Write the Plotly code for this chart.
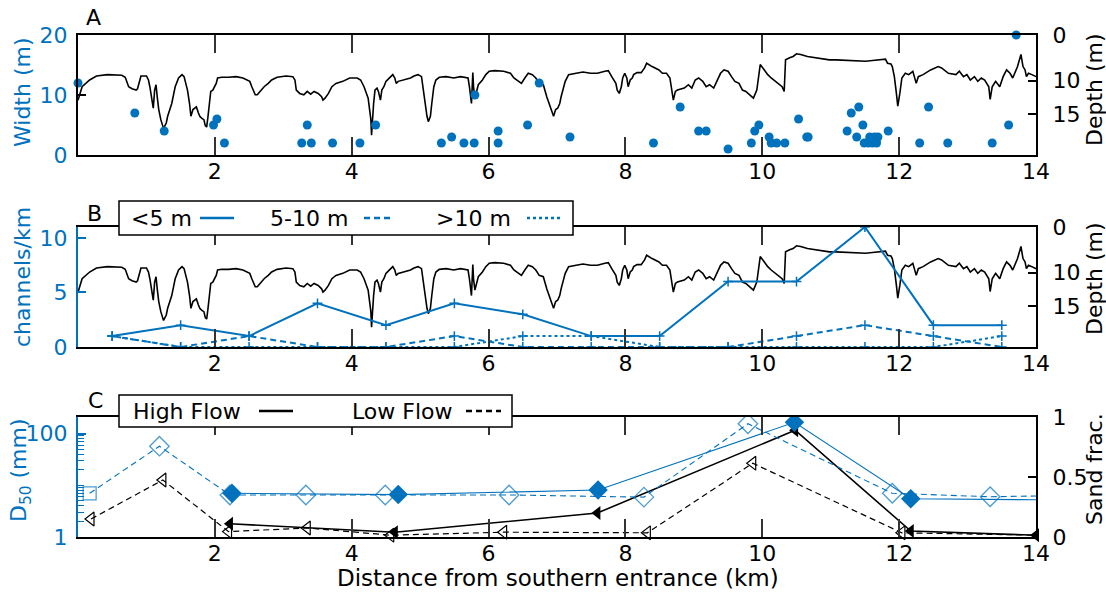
import plotly.graph_objects as go

BLUE = "#0072BD"
BLACK = "#000000"
FONT = "DejaVu Sans"
FS = 22

# ---------------- channel bathymetry (depth along thalweg) ----------------
depth_km = [
    0.00, 0.06, 0.17, 0.27, 0.43, 0.58, 0.64, 0.69, 0.71, 0.74, 0.79, 0.85, 0.87, 0.90, 0.92,
    1.00, 1.03, 1.05, 1.08, 1.10, 1.12, 1.14, 1.16, 1.18, 1.21, 1.25, 1.29, 1.31, 1.37, 1.42,
    1.47, 1.52, 1.55, 1.58, 1.60, 1.63, 1.65, 1.68, 1.71, 1.73, 1.76, 1.78, 1.81, 1.84, 1.86,
    1.88, 1.90, 1.92, 1.94, 1.97, 1.99, 2.02, 2.04, 2.10, 2.20, 2.31, 2.41, 2.46, 2.51, 2.54,
    2.57, 2.59, 2.62, 2.67, 2.72, 2.78, 2.83, 2.91, 3.04, 3.14, 3.17, 3.19, 3.24, 3.30, 3.35,
    3.40, 3.45, 3.51, 3.56, 3.58, 3.61, 3.66, 3.71, 3.77, 3.87, 3.97, 4.08, 4.13, 4.18, 4.24,
    4.26, 4.28, 4.29, 4.30, 4.32, 4.34, 4.37, 4.39, 4.42, 4.44, 4.47, 4.50, 4.55, 4.60, 4.63,
    4.65, 4.68, 4.76, 4.86, 4.91, 4.97, 5.02, 5.04, 5.07, 5.10, 5.12, 5.15, 5.17, 5.20, 5.23,
    5.28, 5.38, 5.49, 5.59, 5.64, 5.70, 5.72, 5.74, 5.75, 5.77, 5.78, 5.80, 5.83, 5.85, 5.91,
    5.96, 6.01, 6.09, 6.22, 6.32, 6.37, 6.43, 6.48, 6.53, 6.58, 6.64, 6.69, 6.74, 6.80, 6.85,
    6.90, 6.95, 6.98, 7.01, 7.04, 7.06, 7.12, 7.17, 7.28, 7.38, 7.49, 7.59, 7.70, 7.75, 7.80,
    7.86, 7.88, 7.91, 7.94, 7.96, 7.99, 8.02, 8.04, 8.07, 8.10, 8.12, 8.17, 8.23, 8.28, 8.31,
    8.39, 8.44, 8.49, 8.54, 8.60, 8.65, 8.68, 8.70, 8.73, 8.76, 8.86, 8.92, 8.97, 9.02, 9.07,
    9.13, 9.18, 9.23, 9.29, 9.34, 9.39, 9.44, 9.50, 9.55, 9.60, 9.66, 9.71, 9.76, 9.81, 9.87,
    9.92, 9.95, 9.97, 10.03, 10.08, 10.13, 10.19, 10.24, 10.29, 10.32, 10.34, 10.40, 10.45, 10.50, 10.56,
    10.66, 10.77, 10.87, 10.98, 11.08, 11.24, 11.35, 11.51, 11.61, 11.72, 11.80, 11.83, 11.88, 11.90, 11.93,
    11.96, 11.98, 12.01, 12.04, 12.09, 12.14, 12.20, 12.25, 12.28, 12.35, 12.46, 12.57, 12.62, 12.72, 12.83,
    12.88, 12.94, 12.99, 13.04, 13.10, 13.15, 13.20, 13.25, 13.31, 13.33, 13.36, 13.41, 13.47, 13.52, 13.57,
    13.62, 13.66, 13.73, 13.78, 13.81, 13.84, 13.86, 13.89, 13.94, 14.00,
]
depth_m = [
    12.9, 10.9, 9.9, 9.3, 9.1, 9.1, 9.2, 9.5, 10.1, 10.9, 11.2, 11.4, 11.2, 10.1, 9.3,
    9.3, 9.9, 10.9, 12.6, 14.1, 11.4, 10.6, 12.6, 14.3, 15.8, 17.1, 16.3, 15.3, 13.4, 10.9,
    9.6, 9.1, 9.4, 10.4, 11.4, 13.4, 15.3, 14.3, 14.1, 13.9, 14.8, 15.3, 15.6, 15.8, 16.7,
    16.9, 15.3, 12.9, 11.6, 11.4, 10.9, 10.4, 9.6, 9.5, 9.5, 9.4, 9.6, 9.8, 10.1, 10.9,
    11.6, 12.1, 12.1, 11.5, 10.9, 10.4, 9.9, 9.5, 9.3, 9.4, 9.9, 11.4, 11.9, 12.1, 11.6,
    12.0, 11.6, 11.9, 12.4, 12.9, 12.6, 11.9, 10.9, 10.4, 10.1, 9.6, 9.6, 9.9, 10.9, 12.6,
    14.3, 15.8, 18.1, 16.3, 13.4, 11.4, 11.1, 11.6, 12.9, 11.4, 10.9, 10.1, 9.6, 9.1, 9.6,
    10.4, 10.1, 9.9, 9.6, 9.3, 9.1, 9.4, 10.9, 13.4, 15.3, 16.1, 15.3, 13.4, 10.9, 9.9,
    9.5, 9.4, 9.6, 9.4, 9.5, 9.6, 10.9, 12.4, 13.4, 8.8, 10.9, 12.6, 11.6, 10.6, 9.9,
    9.1, 8.6, 8.5, 8.6, 8.9, 9.6, 10.1, 10.4, 9.6, 8.9, 9.1, 9.6, 10.4, 10.6, 12.4,
    13.9, 15.3, 14.3, 14.1, 13.4, 12.4, 10.1, 9.1, 8.9, 8.7, 8.9, 8.9, 8.6, 8.5, 9.4,
    10.4, 11.4, 11.9, 10.9, 9.6, 8.9, 9.6, 10.9, 9.9, 9.6, 9.1, 8.8, 8.8, 8.1, 7.4,
    7.9, 8.1, 8.4, 8.9, 8.9, 9.6, 11.4, 12.9, 11.6, 11.4, 11.1, 10.6, 11.1, 9.9, 9.6,
    10.1, 10.9, 10.6, 11.1, 9.9, 8.9, 8.4, 8.6, 9.4, 10.1, 10.4, 11.4, 11.6, 12.1, 12.6,
    11.4, 8.9, 7.6, 8.4, 9.1, 9.6, 10.1, 10.4, 10.9, 11.6, 6.9, 6.6, 6.4, 6.0, 6.1,
    6.4, 6.6, 6.8, 6.9, 6.9, 7.0, 7.0, 7.1, 7.0, 6.9, 6.8, 7.4, 7.5, 7.9, 9.4,
    11.9, 13.8, 11.9, 9.6, 8.9, 9.1, 8.6, 10.4, 9.4, 9.1, 8.4, 7.9, 8.1, 8.9, 9.1,
    8.6, 9.4, 9.1, 9.9, 9.4, 10.1, 9.6, 9.9, 10.9, 12.8, 10.9, 10.1, 10.9, 9.4, 8.4,
    8.9, 9.6, 7.9, 6.1, 7.9, 8.4, 9.4, 8.9, 9.1, 9.4,
]

# ---------------- tidal channel widths ----------------
chan_km = [0.00, 0.83, 1.26, 1.98, 2.03, 2.14, 3.27, 3.35, 3.41, 3.72, 4.12, 4.35, 5.31, 5.46,
           5.64, 5.79, 5.80, 6.14, 6.14, 6.57, 6.74, 7.19, 8.41, 8.80, 9.07, 9.18, 9.50, 9.84,
           9.89, 9.95, 10.10, 10.13, 10.21, 10.33, 10.53, 10.65, 10.67, 11.24, 11.30, 11.41,
           11.38, 11.47, 11.49, 11.55, 11.57, 11.61, 11.64, 11.67, 11.69, 11.84, 12.30, 12.43,
           12.71, 13.36, 13.60, 13.71]
chan_width_m = [12, 7, 4, 5, 6, 2, 2, 5, 2, 2, 2, 5, 2, 3,
                2, 2, 10, 4, 2, 5, 12, 3, 2, 8, 4, 4, 1, 2,
                4, 5, 3, 2, 2, 2, 6, 3, 3, 4, 7, 8,
                3, 5, 2, 2, 3, 2, 3, 2, 3, 4, 2, 8,
                2, 2, 5, 20]

# ---------------- channel density per 1-km bin ----------------
bin_km = [0.5, 1.5, 2.5, 3.5, 4.5, 5.5, 6.5, 7.5, 8.5, 9.5, 10.5, 11.5, 12.5, 13.5]
dens_lt5 = [1, 2, 1, 4, 2, 4, 3, 1, 1, 6, 6, 11, 2, 2]
dens_5to10 = [1, 0, 1, 0, 0, 1, 0, 0, 0, 0, 1, 2, 1, 0]
dens_gt10 = [1, 0, 0, 0, 0, 0, 1, 1, 0, 0, 0, 0, 0, 1]

# ---------------- bed sediment ----------------
d50_high_km = [2.25, 4.68, 7.60, 10.47, 12.17, 14.30]
d50_high_mm = [7.0, 6.6, 8.1, 165.0, 5.5, 5.2]
d50_low_km = [0.17, 1.19, 2.22, 3.33, 4.49, 6.30, 8.27, 9.79, 11.90, 13.33, 14.30]
d50_low_mm = [7.0, 57.0, 6.5, 6.5, 6.5, 6.5, 5.9, 155.0, 7.0, 6.0, 6.3]
sand_high_km = [2.22, 4.63, 7.59, 10.48, 12.17, 14.00]
sand_high = [0.11, 0.04, 0.20, 0.89, 0.05, 0.015]
sand_low_km = [0.19, 1.24, 2.20, 3.35, 4.57, 6.22, 8.32, 9.86, 12.04, 14.02]
sand_low = [0.15, 0.475, 0.045, 0.075, 0.015, 0.04, 0.035, 0.615, 0.035, 0.015]

x_ticks = [2, 4, 6, 8, 10, 12, 14]
depth_range = [21.06, 3.2]
depth_ticks = [3.2, 10, 15]
depth_labels = ["0", "10", "15"]
d50_major = [1, 100]
d50_minor = [2, 3, 4, 5, 6, 7, 8, 9, 10, 20, 30, 40, 50, 60, 70, 80, 90, 200]

fig = go.Figure()

# Panel A
fig.add_trace(go.Scatter(x=depth_km, y=depth_m, mode="lines", xaxis="x", yaxis="y",
                         line=dict(color=BLACK, width=1.6), showlegend=False))
fig.add_trace(go.Scatter(x=chan_km, y=chan_width_m, mode="markers", xaxis="x", yaxis="y2",
                         marker=dict(color=BLUE, size=9), cliponaxis=False, showlegend=False))

# Panel B
fig.add_trace(go.Scatter(x=depth_km, y=depth_m, mode="lines", xaxis="x2", yaxis="y3",
                         line=dict(color=BLACK, width=1.6), showlegend=False))
for vals, dash in [(dens_gt10, "dot"), (dens_5to10, "6px,4px"), (dens_lt5, "solid")]:
    fig.add_trace(go.Scatter(
        x=bin_km, y=vals, mode="lines+markers", xaxis="x2", yaxis="y4",
        line=dict(color=BLUE, width=2, dash=dash),
        marker=dict(symbol="cross-thin", size=7, line=dict(color=BLUE, width=1.5)),
        showlegend=False))

# Panel C: sand fraction (black triangles)
fig.add_trace(go.Scatter(x=sand_low_km, y=sand_low, mode="lines+markers", xaxis="x3", yaxis="y5",
                         line=dict(color=BLACK, width=1.2, dash="6px,4px"),
                         marker=dict(symbol="triangle-left-open", size=12, color=BLACK,
                                     line=dict(width=1.2)),
                         cliponaxis=False, showlegend=False))
fig.add_trace(go.Scatter(x=sand_high_km, y=sand_high, mode="lines+markers", xaxis="x3", yaxis="y5",
                         line=dict(color=BLACK, width=1.6),
                         marker=dict(symbol="triangle-left", size=12, color=BLACK),
                         cliponaxis=False, showlegend=False))
# Panel C: median grain size (blue diamonds)
fig.add_trace(go.Scatter(x=d50_low_km, y=d50_low_mm, mode="lines+markers", xaxis="x3", yaxis="y6",
                         line=dict(color=BLUE, width=1.1, dash="6px,4px"),
                         marker=dict(symbol=["square-open"] + ["diamond-open"] * (len(d50_low_km) - 1),
                                     size=[13] + [15] * (len(d50_low_km) - 1), color=BLUE,
                                     line=dict(width=1.3)),
                         showlegend=False))
fig.add_trace(go.Scatter(x=d50_high_km, y=d50_high_mm, mode="lines+markers", xaxis="x3", yaxis="y6",
                         line=dict(color=BLUE, width=1.1),
                         marker=dict(symbol="diamond", size=15, color=BLUE),
                         showlegend=False))

xcommon = dict(range=[0, 14], tickvals=x_ticks, ticks="inside", ticklen=18, tickwidth=1.5,
               tickcolor="#333333", showline=True, linecolor=BLACK, linewidth=2, mirror="ticks",
               showgrid=False, zeroline=False, ticklabelstandoff=-4,
               tickfont=dict(family=FONT, size=FS, color=BLACK))
ycommon = dict(ticks="inside", ticklen=8, tickwidth=1.5, showline=True, linewidth=2,
               showgrid=False, zeroline=False)
right_std = dict(ticklabelstandoff=10, tickfont=dict(family=FONT, size=FS, color=BLACK))
left_std = dict(ticklabelstandoff=4, tickfont=dict(family=FONT, size=FS, color=BLUE))

fig.update_layout(
    width=1106, height=595,
    margin=dict(l=78, r=70, t=35, b=58),
    plot_bgcolor="white", paper_bgcolor="white",
    font=dict(family=FONT, size=FS, color=BLACK),
    xaxis=dict(domain=[0, 1], anchor="y", **xcommon),
    xaxis2=dict(domain=[0, 1], anchor="y3", **xcommon),
    xaxis3=dict(domain=[0, 1], anchor="y5", **xcommon),
    yaxis=dict(domain=[0.761, 1.0], anchor="x", side="right", range=depth_range,
               tickvals=depth_ticks, ticktext=depth_labels, linecolor=BLACK, tickcolor=BLACK,
               **right_std, **ycommon),
    yaxis2=dict(overlaying="y", anchor="x", side="left", range=[0, 20], tickvals=[0, 10, 20],
                linecolor=BLACK, tickcolor=BLACK, **left_std, **ycommon),
    yaxis3=dict(domain=[0.3785, 0.6175], anchor="x2", side="right", range=depth_range,
                tickvals=depth_ticks, ticktext=depth_labels, linecolor=BLACK, tickcolor=BLACK,
                **right_std, **ycommon),
    yaxis4=dict(overlaying="y3", anchor="x2", side="left", range=[0, 11], tickvals=[0, 5, 10],
                linecolor=BLUE, tickcolor=BLUE, **left_std, **ycommon),
    yaxis5=dict(domain=[0, 0.239], anchor="x3", side="right", range=[0, 1],
                tickvals=[0, 0.5, 1], ticktext=["0", "0.5", "1"], linecolor=BLACK, tickcolor=BLACK,
                **right_std, **ycommon),
    yaxis6=dict(overlaying="y5", anchor="x3", side="left", type="log", range=[0, 2.32],
                tickvals=d50_major, ticktext=["1", "100"],
                minor=dict(tickvals=d50_minor, ticks="inside", ticklen=6, tickwidth=1.2,
                           tickcolor=BLUE, showgrid=False),
                linecolor=BLUE, tickcolor=BLUE, **left_std, **ycommon),
)

L, T, W, H = 78.0, 35.0, 958.0, 502.0


def px(xp):
    return (xp - L) / W


def py(yp):
    return (T + H - yp) / H


def text_at(text, xp, yp, color=BLACK, angle=0, xanchor="center", size=FS):
    return dict(text=text, x=px(xp), y=py(yp), xref="paper", yref="paper", textangle=angle,
                xanchor=xanchor, yanchor="middle", showarrow=False,
                font=dict(family=FONT, size=size, color=color))


ann = []
# panel letters
for letter, (xp, yp) in {"A": (93, 17), "B": (94, 213), "C": (95, 400)}.items():
    ann.append(text_at(letter, xp, yp))
# axis titles
for text, xp, yp, col in [("Width (m)", 22, 92, BLUE), ("channels/km", 22, 277, BLUE),
                          ("D<sub>50</sub> (mm)", 20, 470, BLUE),
                          ("Depth (m)", 1094, 90, BLACK), ("Depth (m)", 1094, 279, BLACK),
                          ("Sand frac.", 1094, 469, BLACK)]:
    ann.append(text_at(text, xp, yp, col, angle=-90))
ann.append(text_at("Distance from southern entrance (km)", 558, 578, size=23))

shapes = []
# legend for panel B
shapes.append(dict(type="rect", xref="paper", yref="paper", x0=px(119), x1=px(573), y0=py(235),
                   y1=py(201), fillcolor="white", line=dict(color=BLACK, width=1.5), layer="above"))
for label, tx, lx0, lx1, dash in [("<5 m", 129, 200, 234, "solid"), ("5-10 m", 268, 364, 392, "6px,4px"),
                                  (">10 m", 434, 527, 561, "dot")]:
    ann.append(text_at(label, tx, 218, xanchor="left"))
    shapes.append(dict(type="line", xref="paper", yref="paper", x0=px(lx0), x1=px(lx1), y0=py(218),
                       y1=py(218), line=dict(color=BLUE, width=2.5, dash=dash), layer="above"))
# legend for panel C
shapes.append(dict(type="rect", xref="paper", yref="paper", x0=px(119), x1=px(512), y0=py(427),
                   y1=py(395), fillcolor="white", line=dict(color=BLACK, width=1.5), layer="above"))
for label, tx, lx0, lx1, dash in [("High Flow", 131, 259, 293, "solid"), ("Low Flow", 350, 466, 501, "6px,4px")]:
    ann.append(text_at(label, tx, 411, xanchor="left"))
    shapes.append(dict(type="line", xref="paper", yref="paper", x0=px(lx0), x1=px(lx1), y0=py(411),
                       y1=py(411), line=dict(color=BLACK, width=2.5, dash=dash), layer="above"))

fig.update_layout(annotations=ann, shapes=shapes)
fig.write_html("out.html")
